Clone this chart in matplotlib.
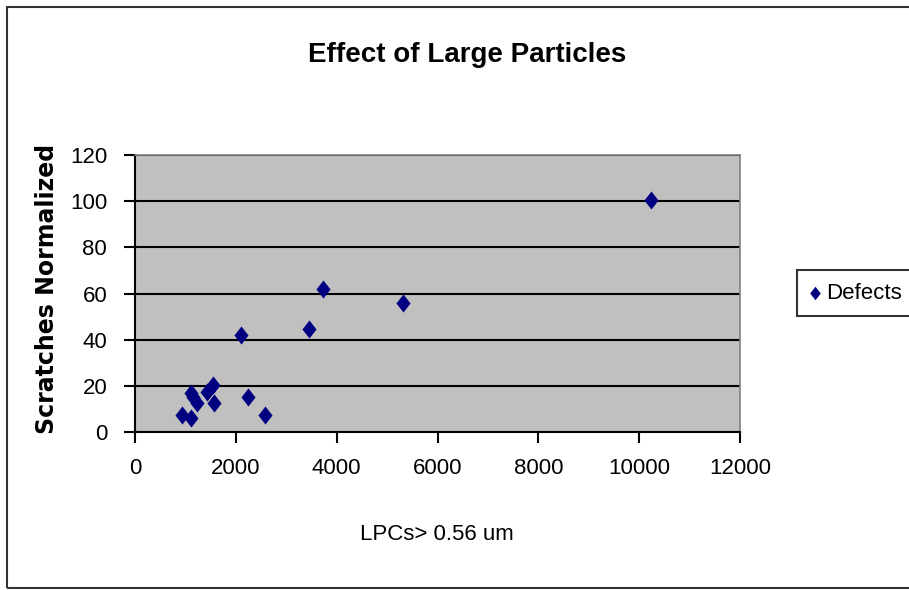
import matplotlib
matplotlib.use("Agg")
import matplotlib.pyplot as plt
from matplotlib.patches import Rectangle
from matplotlib.path import Path

plt.rcParams['font.family'] = ['Liberation Sans', 'DejaVu Sans']

# Data
lpcs = [3730, 5310, 2100, 3460, 1110, 1150, 1220, 1420, 1540, 1570, 930, 1110, 2250, 2580, 10240]
scratches = [62, 56, 42, 44.5, 17, 15, 12.5, 17.5, 20.5, 12.5, 7.5, 6, 15, 7.5, 100.5]
series_name = "Defects"
title = "Effect of Large Particles"
xlabel = "LPCs> 0.56 um"
ylabel = "Scratches Normalized"
xticks = [0, 2000, 4000, 6000, 8000, 10000, 12000]
yticks = [0, 20, 40, 60, 80, 100, 120]

diamond = Path([(0, 1), (0.78, 0), (0, -1), (-0.78, 0), (0, 1)],
               [Path.MOVETO, Path.LINETO, Path.LINETO, Path.LINETO, Path.CLOSEPOLY])

fig = plt.figure(figsize=(9.09, 5.90), dpi=100)
fig.patch.set_facecolor('white')
# outer chart border
fig.patches.append(Rectangle((7/909, 2/590), 1.2, 1 - 9/590, transform=fig.transFigure,
                             fill=False, edgecolor='#333333', linewidth=1.5))

ax = fig.add_axes([135/909, 1 - 432/590, (740 - 135)/909, (432 - 155)/590])
ax.set_facecolor('#C0C0C0')
ax.scatter(lpcs, scratches, marker=diamond, s=169, color='#000080', linewidths=0,
           label=series_name, zorder=3)

ax.set_xlim(0, 12000)
ax.set_ylim(0, 120)
ax.set_xticks(xticks)
ax.set_yticks(yticks)
ax.grid(axis='y', color='black', linewidth=1.5)
ax.set_axisbelow(True)
for s in ['top', 'right']:
    ax.spines[s].set_color('#808080')
    ax.spines[s].set_linewidth(1.2)
for s in ['left', 'bottom']:
    ax.spines[s].set_color('black')
    ax.spines[s].set_linewidth(1.5)
ax.tick_params(axis='both', direction='out', length=8, width=1.5, labelsize=16)
ax.tick_params(axis='x', pad=11)
ax.tick_params(axis='y', pad=12)

fig.text(467/909, 1 - 55/590, title, ha='center', va='center', fontsize=20, fontweight='bold')
fig.text(437/909, 1 - 535/590, xlabel, ha='center', va='center', fontsize=16)
fig.text(47/909, 1 - 289/590, ylabel, ha='center', va='center', rotation=90, fontsize=17,
         fontweight='bold', family=['DejaVu Sans'])

leg = fig.legend(loc='center left', bbox_to_anchor=(797/909, 1 - 293/590), fontsize=16,
                 frameon=True, fancybox=False, edgecolor='black', handletextpad=0.25,
                 borderpad=0.55, borderaxespad=0, markerscale=0.75, handlelength=0.5)
leg.get_frame().set_linewidth(1.5)

fig.savefig('out.png', dpi=100, facecolor='white')
